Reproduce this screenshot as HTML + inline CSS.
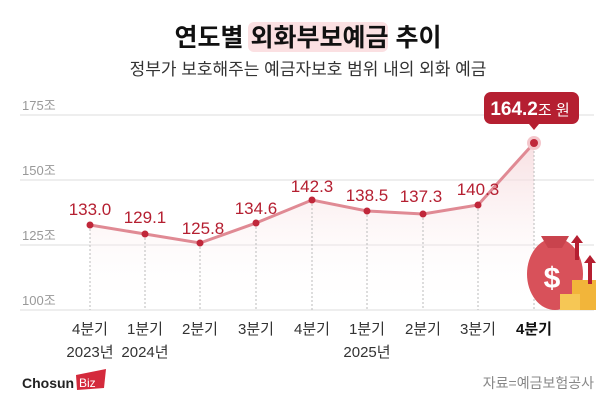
<!DOCTYPE html>
<html><head><meta charset="utf-8"><style>
body{margin:0;background:#fff;}
svg text{font-family:"Liberation Sans","Noto Sans CJK KR",sans-serif;}
</style></head><body>
<svg width="616" height="405" viewBox="0 0 616 405" xmlns="http://www.w3.org/2000/svg">
<defs><linearGradient id="g" x1="0" y1="0" x2="0" y2="1"><stop offset="0" stop-color="#f6d7da" stop-opacity="0.8"/><stop offset="1" stop-color="#fff" stop-opacity="0"/></linearGradient></defs>
<rect x="248" y="22" width="140" height="30" rx="6" fill="#fbe0e2"/>
<text x="308" y="46" font-size="25" font-weight="bold" text-anchor="middle" fill="#111">연도별 외화부보예금 추이</text>
<text x="308" y="75" font-size="17" text-anchor="middle" fill="#333">정부가 보호해주는 예금자보호 범위 내의 외화 예금</text>
<g stroke="#ddd" stroke-width="1">
<line x1="20" y1="115" x2="594" y2="115"/><line x1="20" y1="180" x2="594" y2="180"/><line x1="20" y1="245" x2="594" y2="245"/><line x1="20" y1="310" x2="594" y2="310"/>
</g>
<g font-size="13" fill="#999"><text x="22" y="110">175조</text><text x="22" y="175">150조</text><text x="22" y="240">125조</text><text x="22" y="305">100조</text></g>
<polygon points="90,225 145,234 200,243 256,223 312,200 367,211 423,214 478,205 534,143 534,310 90,310" fill="url(#g)"/>
<g stroke="#bbb" stroke-dasharray="2,2"><line x1="90" y1="225" x2="90" y2="310"/><line x1="145" y1="234" x2="145" y2="310"/><line x1="200" y1="243" x2="200" y2="310"/><line x1="256" y1="223" x2="256" y2="310"/><line x1="312" y1="200" x2="312" y2="310"/><line x1="367" y1="211" x2="367" y2="310"/><line x1="423" y1="214" x2="423" y2="310"/><line x1="478" y1="205" x2="478" y2="310"/><line x1="534" y1="143" x2="534" y2="310"/></g>
<polyline points="90,225 145,234 200,243 256,223 312,200 367,211 423,214 478,205 534,143" fill="none" stroke="#e08a94" stroke-width="3"/>
<circle cx="534" cy="143" r="7" fill="#f4c6cb"/>
<g fill="#c0273a"><circle cx="90" cy="225" r="3.5"/><circle cx="145" cy="234" r="3.5"/><circle cx="200" cy="243" r="3.5"/><circle cx="256" cy="223" r="3.5"/><circle cx="312" cy="200" r="3.5"/><circle cx="367" cy="211" r="3.5"/><circle cx="423" cy="214" r="3.5"/><circle cx="478" cy="205" r="3.5"/><circle cx="534" cy="143" r="4"/></g>
<g font-size="17" fill="#b51f31" text-anchor="middle"><text x="90" y="215">133.0</text><text x="145" y="223">129.1</text><text x="203" y="234">125.8</text><text x="256" y="214">134.6</text><text x="312" y="192">142.3</text><text x="367" y="201">138.5</text><text x="421" y="202">137.3</text><text x="478" y="195">140.3</text></g>
<rect x="484" y="92" width="95" height="32" rx="7" fill="#b51f31"/>
<polygon points="529,124 539,124 534,130" fill="#b51f31"/>
<text x="530" y="115" font-size="19" font-weight="bold" fill="#fff" text-anchor="middle">164.2<tspan font-size="15" font-weight="normal">조 원</tspan></text>
<g font-size="15" fill="#333" text-anchor="middle"><text x="90" y="334">4분기</text><text x="145" y="334">1분기</text><text x="200" y="334">2분기</text><text x="256" y="334">3분기</text><text x="312" y="334">4분기</text><text x="367" y="334">1분기</text><text x="423" y="334">2분기</text><text x="478" y="334">3분기</text><text x="534" y="334" font-weight="bold" fill="#111">4분기</text>
<text x="90" y="357">2023년</text><text x="145" y="357">2024년</text><text x="367" y="357">2025년</text></g>
<g><ellipse cx="555" cy="274" rx="28" ry="36" fill="#d8515a"/><path d="M541 236 L569 236 L562 248 L548 248Z" fill="#c9434d"/><text x="552" y="288" font-size="30" font-weight="bold" fill="#fff" text-anchor="middle">$</text>
<rect x="572" y="280" width="24" height="30" fill="#f2b53a"/><rect x="560" y="294" width="20" height="16" fill="#f6c755"/>
<polygon points="571,243 577,235 583,243 579,243 579,260 575,260 575,243" fill="#b51f31"/><polygon points="584,263 590,255 596,263 592,263 592,284 588,284 588,263" fill="#b51f31"/></g>
<text x="22" y="388" font-size="14" font-weight="bold" fill="#222">Chosun</text>
<polygon points="76,375 106,369 104,388 77,390" fill="#d42a3c"/><text x="79" y="387" font-size="12" fill="#fff">Biz</text>
<text x="594" y="388" font-size="14" fill="#888" text-anchor="end">자료=예금보험공사</text>
</svg>
</body></html>
